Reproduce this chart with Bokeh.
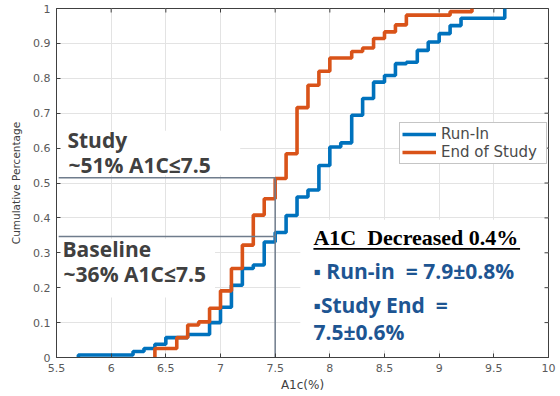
import math
from bokeh.plotting import figure
from bokeh.models import (Label, BoxAnnotation, FixedTicker, Legend, LegendItem)
from bokeh.embed import file_html
from bokeh.resources import INLINE

# ---------------- data ----------------
run_in_a1c = [5.7, 6.2, 6.3, 6.4, 6.5, 6.7, 6.9, 7.0, 7.1, 7.2, 7.3, 7.4, 7.5, 7.6,
              7.7, 7.8, 7.9, 8.0, 8.1, 8.2, 8.3, 8.4, 8.5, 8.6, 8.7, 8.8, 8.9, 9.0,
              9.1, 9.2, 9.6]
run_in_cdf = [0.007, 0.017, 0.026, 0.038, 0.057, 0.066, 0.100, 0.144, 0.207, 0.255,
              0.265, 0.331, 0.358, 0.407, 0.460, 0.480, 0.550, 0.603, 0.615, 0.694,
              0.742, 0.789, 0.808, 0.842, 0.846, 0.880, 0.904, 0.928, 0.951, 0.972,
              1.000]

end_a1c = [6.4, 6.6, 6.7, 6.8, 6.9, 7.0, 7.1, 7.2, 7.3, 7.4, 7.5, 7.6, 7.7, 7.8,
           7.9, 8.0, 8.2, 8.3, 8.4, 8.5, 8.6, 8.7, 9.1, 9.3]
end_cdf = [0.026, 0.057, 0.093, 0.102, 0.141, 0.191, 0.255, 0.322, 0.408, 0.455,
           0.513, 0.584, 0.716, 0.780, 0.820, 0.858, 0.877, 0.887, 0.914, 0.933,
           0.953, 0.981, 0.991, 1.000]

series_names = ["Run-In", "End of Study"]

x_ticks = [5.5, 6, 6.5, 7, 7.5, 8, 8.5, 9, 9.5, 10]
x_tick_labels = ["5.5", "6", "6.5", "7", "7.5", "8", "8.5", "9", "9.5", "10"]
y_ticks = [0, 0.1, 0.2, 0.3, 0.4, 0.5, 0.6, 0.7, 0.8, 0.9, 1]
y_tick_labels = ["0", "0.1", "0.2", "0.3", "0.4", "0.5", "0.6", "0.7", "0.8", "0.9", "1"]

threshold_a1c = 7.5
study_fraction = 0.515
baseline_fraction = 0.347

# ---------------- figure ----------------
BLUE = "#0072BD"
ORANGE = "#D95319"
TICK_COLOR = "#5a5a5a"
EDGE = "#404040"

X0, X1, Y0, Y1 = 5.5, 10, 0, 1
p = figure(width=560, height=396, x_range=(X0, X1), y_range=(Y0, Y1),
           output_backend="svg", toolbar_location=None,
           min_border_left=56, min_border_right=12, min_border_top=8,
           min_border_bottom=39)
p.background_fill_color = "white"
p.border_fill_color = "white"
p.outline_line_color = EDGE
p.outline_line_width = 1

for ax, ticks, labels in ((p.xaxis[0], x_ticks, x_tick_labels),
                          (p.yaxis[0], y_ticks, y_tick_labels)):
    ax.ticker = FixedTicker(ticks=ticks)
    ax.major_label_overrides = {t: l for t, l in zip(ticks, labels)}
    ax.major_tick_in = 4
    ax.major_tick_out = 0
    ax.minor_tick_line_color = None
    ax.axis_line_color = EDGE
    ax.major_tick_line_color = EDGE
    ax.major_label_text_font = "DejaVu Sans"
    ax.major_label_text_font_size = "11px"
    ax.major_label_text_color = TICK_COLOR
    ax.axis_label_text_font = "DejaVu Sans"
    ax.axis_label_text_font_style = "normal"
    ax.axis_label_text_color = "#404040"

p.xaxis.axis_label = "A1c(%)"
p.xaxis.axis_label_text_font_size = "12px"
p.xaxis.major_label_standoff = 6
p.xaxis.axis_label_standoff = 3
p.yaxis.axis_label = "Cumulative Percentage"
p.yaxis.axis_label_text_font_size = "10.5px"
p.yaxis.major_label_standoff = 6
p.yaxis.axis_label_standoff = 8

p.grid.grid_line_color = "#e3e3e3"
p.grid.grid_line_width = 1

# inside tick marks on the top and right edges (box on), clipped to the frame
p.scatter(x=x_ticks, y=[Y1] * len(x_ticks), marker="dash", size=8,
          angle=math.pi / 2, line_color=EDGE, line_width=1)
p.scatter(x=[X1] * len(y_ticks), y=y_ticks, marker="dash", size=8,
          line_color=EDGE, line_width=1)

# white boxes behind the annotation texts
for l, r, b, t in ((5.52, 7.18, 0.522, 0.650),
                   (5.52, 6.95, 0.172, 0.340),
                   (7.73, 9.97, 0.020, 0.395)):
    p.add_layout(BoxAnnotation(left=l, right=r, bottom=b, top=t, fill_color="white",
                               fill_alpha=1, line_color=None, level="underlay"))

# ---------------- empirical CDF steps ----------------
r_run = p.step([run_in_a1c[0]] + run_in_a1c, [0] + run_in_cdf, mode="after",
               line_color=BLUE, line_width=3.6)
r_end = p.step([end_a1c[0]] + end_a1c, [0] + end_cdf, mode="after",
               line_color=ORANGE, line_width=3.6)

# reference lines
GRAY = "#6f7c8c"
x0 = X0 + 0.02
p.line([x0, threshold_a1c], [study_fraction, study_fraction], line_color=GRAY, line_width=1.5)
p.line([x0, threshold_a1c], [baseline_fraction, baseline_fraction], line_color=GRAY, line_width=1.5)
p.line([threshold_a1c, threshold_a1c], [0, study_fraction], line_color=GRAY, line_width=1.5)

# legend
legend = Legend(items=[LegendItem(label=series_names[0], renderers=[r_run]),
                       LegendItem(label=series_names[1], renderers=[r_end])],
                location=(343, 193))
legend.label_text_font = "DejaVu Sans"
legend.label_text_font_size = "15px"
legend.label_text_color = "#4a4a4a"
legend.glyph_width = 34
legend.glyph_height = 16
legend.label_height = 16
legend.label_width = 103
legend.label_standoff = 5
legend.spacing = 0
legend.padding = 2
legend.margin = 0
legend.border_line_color = "#8c8c8c"
legend.border_line_width = 1.5
legend.background_fill_color = "white"
legend.background_fill_alpha = 1
p.add_layout(legend)

# ---------------- annotation texts ----------------
DARK = "#404040"
TXT_BLUE = "#1d5592"
def lab(x, y, text, color, font="Open Sans", size="21px", style="bold"):
    p.add_layout(Label(x=x, y=y, text=text, text_color=color, text_font=font,
                       text_font_size=size, text_font_style=style,
                       text_baseline="alphabetic", text_align="left"))

lab(5.60, 0.624, "Study", DARK)
lab(5.61, 0.552, "~51% A1C≤7.5", DARK)
lab(5.555, 0.311, "Baseline", DARK)
lab(5.565, 0.240, "~36% A1C≤7.5", DARK)

lab(7.85, 0.344, "A1C\u00a0 Decreased 0.4%", "black", font="Liberation Serif", size="22px")
p.add_layout(BoxAnnotation(left=7.85, right=9.74, bottom=0.309, top=0.3135,
                           fill_color="black", fill_alpha=1, line_color=None))
lab(7.85, 0.248, "▪ Run-in\u00a0 = 7.9±0.8%", TXT_BLUE)
lab(7.85, 0.151, "▪Study End\u00a0 =", TXT_BLUE)
lab(7.85, 0.074, "7.5±0.6%", TXT_BLUE)

open("out.html", "w").write(file_html(p, INLINE))
